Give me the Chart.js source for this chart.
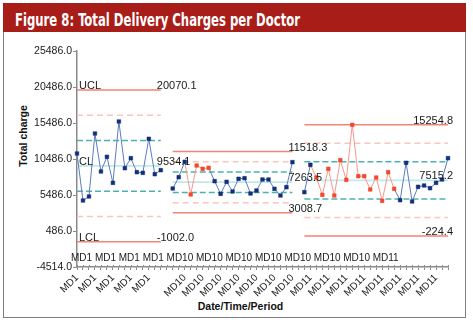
<!DOCTYPE html>
<html>
<head>
<meta charset="utf-8">
<script src="https://cdn.jsdelivr.net/npm/chart.js@4.4.1/dist/chart.umd.min.js"></script>
<style>
  html, body { margin: 0; padding: 0; background: #fff; }
  body { width: 473px; height: 327px; position: relative; overflow: hidden; font-family: "Liberation Sans", Arial, sans-serif; }
  #frame { position: absolute; left: 3px; top: 3px; width: 461px; height: 313px; border: 1.5px solid #7f7f7f; }
  #header { position: absolute; left: 3px; top: 3px; width: 463px; height: 29px; background: #a91d18; }
  #title { position: absolute; left: 15px; top: 11px; color: #fff; font: bold 18px "Liberation Sans Narrow", "DejaVu Sans Condensed", "Liberation Sans", sans-serif; line-height: 1; white-space: nowrap; transform-origin: 0 0; }
  #wrap { position: absolute; left: 0; top: 0; width: 473px; height: 327px; }
  .axis-title { position: absolute; font: bold 10.5px "Liberation Sans", sans-serif; color: #111; white-space: nowrap; transform: translate(-50%, -50%); }
  #ytitle { left: 22.5px; top: 135.5px; transform: translate(-50%, -50%) rotate(-90deg); }
  #xtitle { left: 240.5px; top: 306px; }
</style>
</head>
<body>
<div id="frame"></div>
<div id="header"></div>
<div id="title">Figure 8: Total Delivery Charges per Doctor</div>
<div class="axis-title" id="ytitle">Total charge</div>
<div class="axis-title" id="xtitle">Date/Time/Period</div>
<div id="wrap"><canvas id="chart"></canvas></div>
<script>
// --- DATA ---
const groupNames = ['MD1', 'MD10', 'MD11'];
const md1Charges = [11250, 4722, 5278, 14028, 8750, 10792, 7180, 15694, 9208, 10597, 8653, 8569, 13292, 8375, 8930];
const md10Charges = [6389, 7958, 10097, 5555, 9583, 9125, 9264, 7403, 5653, 7319, 5972, 7736, 7819, 5694, 6111, 7639, 7639, 6347, 5417, 6569, 10042];
const md11Charges = [5875, 9680, 7917, 5514, 9125, 5417, 10319, 7597, 15236, 8097, 8097, 6250, 7917, 4680, 8653, 6347, 4764, 9958, 4583, 6625, 6805, 6430, 7180, 7639, 10597];
// points drawn in red (index inside each group)
const md1Flagged = [];
const md10Flagged = [3, 4, 5, 6];
const md11Flagged = [2, 3, 4, 5, 6, 7, 8, 9, 10, 11, 12, 13, 14, 15];

const uclValues = [20070.1, 11518.3, 15254.8];
const upper2Sigma = [16558.1, 10100.0, 12674.9];
const upper1Sigma = [13046.1, 8681.8, 10095.1];
const clValues = [9534.1, 7263.5, 7515.2];
const lower1Sigma = [6022.1, 5845.2, 4935.3];
const lower2Sigma = [2510.1, 4426.9, 2355.5];
const lclValues = [-1002.0, 3008.7, -224.4];

const yTicks = [-4514, 486, 5486, 10486, 15486, 20486, 25486];
const overlapRow = ['MD1', 'MD1', 'MD1', 'MD1', 'MD10', 'MD10', 'MD10', 'MD10', 'MD10', 'MD10', 'MD10', 'MD11'];

// --- BUILD SERIES ---
const groups = [md1Charges, md10Charges, md11Charges];
const groupFlags = [md1Flagged, md10Flagged, md11Flagged];
const labels = [], values = [], flagged = [], groupOf = [];
groups.forEach((g, gi) => {
  if (gi > 0) { labels.push(''); values.push(null); flagged.push(false); groupOf.push(-1); }
  g.forEach((v, i) => {
    labels.push(groupNames[gi]);
    values.push(v);
    flagged.push(groupFlags[gi].includes(i));
    groupOf.push(gi);
  });
});
const limitSeries = arr => groupOf.map(gi => (gi < 0 ? null : arr[gi]));

const BLUE_LINE = '#5b7cc0', BLUE_PT = '#12307a', RED_LINE = '#f6978b', RED_PT = '#f04a2e';

function limitLine(arr, color, dash, width) {
  return {
    data: limitSeries(arr), borderColor: color, borderWidth: width || 1.5, borderDash: dash || [],
    pointRadius: 0, spanGaps: false, order: 1, fill: false
  };
}

const limitLabels = {
  id: 'limitLabels',
  afterDatasetsDraw(chart) {
    const { ctx, chartArea, scales: { x, y } } = chart;
    ctx.save();
    ctx.fillStyle = '#1a1a1a';
    ctx.textBaseline = 'alphabetic';
    ctx.font = '11px "Liberation Sans", sans-serif';
    let start = 0;
    groups.forEach((g, gi) => {
      const first = start, last = start + g.length - 1;
      start = last + 2;
      const xL = x.getPixelForValue(first), xR = x.getPixelForValue(last);
      [uclValues, clValues, lclValues].forEach((arr, k) => {
        const yy = y.getPixelForValue(arr[gi]) - 1;
        const txt = arr[gi].toFixed(1);
        const w = ctx.measureText(txt).width;
        ctx.fillText(txt, Math.min(xR - 4, chartArea.right + 5 - w), yy);
        if (gi === 0) ctx.fillText(['UCL', 'CL', 'LCL'][k], xL + 2, yy);
      });
    });
    // category names as they sit above the axis
    ctx.font = '10px "Liberation Sans", sans-serif';
    ctx.fillText(overlapRow.join(' '), chartArea.left - 6, chartArea.bottom - 6);
    // upper half of x tick marks
    ctx.strokeStyle = '#8a8a8a';
    ctx.lineWidth = 1;
    labels.forEach((l, i) => {
      const px = Math.round(x.getPixelForValue(i)) + 0.5;
      ctx.beginPath();
      ctx.moveTo(px, chartArea.bottom - 2);
      ctx.lineTo(px, chartArea.bottom);
      ctx.stroke();
    });
    ctx.restore();
  }
};

Chart.defaults.font.family = '"Liberation Sans", Arial, sans-serif';
Chart.defaults.color = '#1a1a1a';

new Chart(document.getElementById('chart'), {
  type: 'line',
  data: {
    labels: labels,
    datasets: [
      {
        data: values, borderColor: BLUE_LINE, borderWidth: 1, pointStyle: 'rect', pointRadius: 2.6,
        pointBackgroundColor: flagged.map(f => (f ? RED_PT : BLUE_PT)),
        pointBorderColor: flagged.map(f => (f ? RED_PT : BLUE_PT)), pointBorderWidth: 0.5,
        segment: { borderColor: c => (flagged[c.p1DataIndex] ? RED_LINE : BLUE_LINE) },
        spanGaps: false, order: 0, tension: 0
      },
      limitLine(uclValues, '#f2857a'),
      limitLine(upper2Sigma, '#f9c6c0', [6, 4]),
      limitLine(upper1Sigma, '#4db2ad', [6, 3]),
      limitLine(clValues, '#bfe9ea', [], 1.8),
      limitLine(lower1Sigma, '#4db2ad', [6, 3]),
      limitLine(lower2Sigma, '#f9c6c0', [6, 4]),
      limitLine(lclValues, '#f2857a')
    ]
  },
  options: {
    responsive: true, maintainAspectRatio: false, animation: false,
    layout: { padding: { top: 51, right: 25, bottom: 0, left: 0 } },
    plugins: { legend: { display: false }, tooltip: { enabled: false }, title: { display: false } },
    scales: {
      x: {
        type: 'category', offset: false,
        grid: { drawOnChartArea: false, tickLength: 3, color: '#8a8a8a', lineWidth: 1 },
        border: { color: '#8a8a8a', width: 1.5 },
        ticks: {
          autoSkip: false, maxRotation: 45, minRotation: 45, padding: 2, font: { size: 10 },
          callback: (v, i) => (i % 3 === 0 ? labels[i] : '')
        },
        afterFit: s => { s.height = 60; }
      },
      y: {
        min: -4514, max: 25486,
        afterBuildTicks: s => { s.ticks = yTicks.map(v => ({ value: v })); },
        grid: { drawOnChartArea: false, tickLength: 4, color: '#8a8a8a' },
        border: { color: '#8a8a8a', width: 1.5 },
        ticks: { padding: 1, font: { size: 10.5 }, callback: v => Number(v).toFixed(1) },
        afterFit: s => { s.width = 77; }
      }
    }
  },
  plugins: [limitLabels]
});

// fit the header title to the width it has in the figure
const title = document.getElementById('title');
const tw = title.getBoundingClientRect().width;
title.style.transform = 'scaleX(' + (285 / tw) + ')';
</script>
</body>
</html>
